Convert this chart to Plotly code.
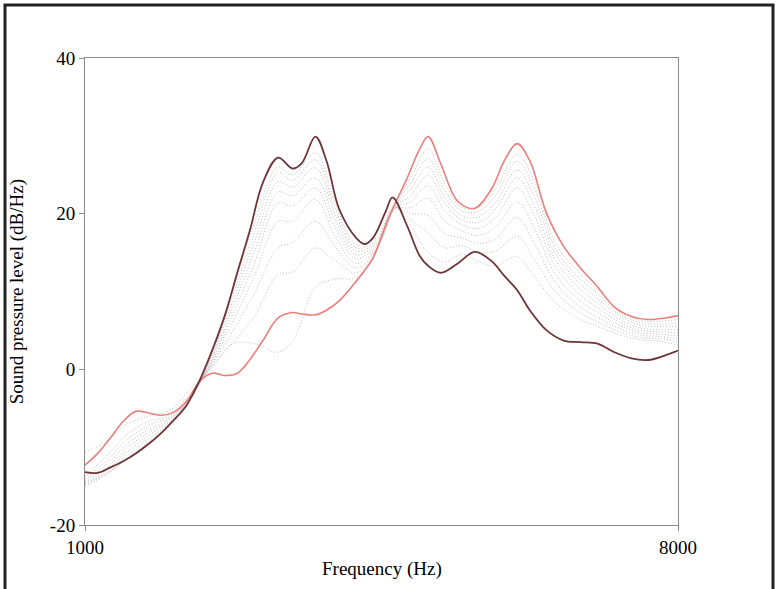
import plotly.graph_objects as go

# Frequency grid (Hz) for the two end spectra
freq_main = [1000, 1150, 1300, 1450, 1600, 1750, 1900, 2050, 2200, 2350, 2500, 2650, 2800, 2950,
             3100, 3280, 3450, 3560, 3720, 3850, 4000, 4200, 4300, 4400, 4550, 4630, 4800, 4950, 5050,
             5200, 5400, 5600, 5800, 5950, 6100, 6250, 6450, 6650, 6850, 7050, 7250, 7450, 7650,
             7850, 8000]

spl_dark = [-13.2, -13.3, -12.6, -11.8, -10.8, -9.6, -8.2, -6.5, -4.6, -1.5, 2.4, 6.9, 12.5, 18.0,
            24.0, 27.2, 25.8, 26.5, 29.9, 26.8, 20.6, 16.9, 16.1, 16.9, 20.3, 22.1, 18.5, 14.6, 13.3,
            12.4, 13.6, 15.1, 13.9, 12.0, 10.2, 7.6, 5.0, 3.7, 3.5, 3.3, 2.2, 1.4, 1.2, 1.8, 2.4]

spl_red = [-12.3, -10.8, -8.8, -6.7, -5.4, -5.6, -5.9, -5.5, -4.1, -1.6, -0.5, -0.8, -0.5, 1.3,
           3.7, 6.6, 7.3, 7.1, 7.0, 7.6, 8.8, 11.3, 12.7, 14.3, 18.5, 20.6, 24.5, 28.3, 29.9,
           26.4, 21.6, 20.7, 23.2, 26.8, 29.0, 26.8, 20.0, 15.8, 13.0, 10.6, 8.0, 6.8, 6.4, 6.6, 6.9]

# Frequency grid (Hz) for the intermediate (dotted) spectra
freq_mid = [1000, 1250, 1500, 1750, 2000, 2250, 2500, 2750, 3000, 3280, 3450, 3720, 3950, 4200,
            4450, 4650, 4850, 5050, 5250, 5450, 5650, 5850, 6100, 6300, 6550, 6800, 7050, 7300,
            7550, 7800, 8000]

spl_mid_1 = [-14.6, -13.4, -11.5, -9.5, -7.1, -3.8, 2.0, 10.3, 18.8, 26.0, 25.0, 27.8, 21.5, 16.0,
             17.0, 21.0, 18.3, 15.0, 13.8, 14.8, 13.8, 13.3, 14.5, 12.0, 8.6, 6.7, 5.5, 4.5, 3.8, 3.6, 3.1]
spl_mid_2 = [-15.0, -13.6, -11.4, -9.3, -7.0, -3.7, 1.8, 9.6, 17.6, 25.3, 24.3, 26.9, 20.8, 15.6,
             16.7, 20.8, 19.2, 17.5, 15.6, 15.9, 15.0, 15.2, 17.1, 14.2, 10.0, 7.6, 6.1, 4.9, 4.1, 3.9, 3.5]
spl_mid_3 = [-14.9, -13.3, -11.0, -8.9, -6.9, -3.6, 1.5, 8.9, 16.4, 24.1, 23.4, 25.9, 20.0, 15.2,
             16.5, 20.7, 20.0, 19.8, 17.4, 16.9, 16.2, 16.8, 19.5, 16.3, 11.2, 8.4, 6.7, 5.3, 4.4, 4.2, 3.9]
spl_mid_4 = [-14.7, -13.0, -10.6, -8.5, -6.7, -3.5, 1.2, 8.1, 15.1, 22.8, 22.3, 24.6, 19.2, 14.7,
             16.3, 20.6, 20.8, 22.0, 19.0, 17.8, 17.2, 18.3, 21.5, 18.2, 12.3, 9.2, 7.3, 5.7, 4.7, 4.5, 4.3]
spl_mid_5 = [-14.5, -12.7, -10.1, -8.1, -6.5, -3.4, 1.0, 7.2, 13.6, 21.4, 21.0, 23.3, 18.3, 14.2,
             16.1, 20.6, 21.6, 23.6, 20.3, 18.6, 18.1, 19.6, 23.3, 19.8, 13.3, 10.0, 7.9, 6.1, 5.0, 4.8, 4.7]
spl_mid_6 = [-14.3, -12.3, -9.6, -7.7, -6.3, -3.3, 0.8, 6.2, 12.0, 19.0, 19.0, 21.8, 17.2, 13.6,
             15.9, 20.6, 22.4, 24.9, 21.3, 19.2, 18.9, 20.6, 24.6, 21.1, 14.1, 10.8, 8.5, 6.5, 5.3, 5.1, 5.1]
spl_mid_7 = [-14.1, -11.8, -9.0, -7.2, -6.1, -3.2, 0.6, 5.0, 9.8, 15.6, 16.3, 19.0, 15.8, 13.0,
             15.7, 20.7, 23.2, 26.0, 22.0, 19.7, 19.6, 21.5, 25.6, 22.3, 14.9, 11.5, 9.1, 6.9, 5.7, 5.5, 5.5]
spl_mid_8 = [-13.8, -11.2, -8.3, -6.7, -5.9, -3.0, 0.4, 3.5, 6.8, 12.2, 12.5, 15.6, 14.0, 12.4,
             15.6, 20.8, 24.0, 27.1, 22.9, 20.3, 20.3, 22.4, 26.7, 23.4, 15.6, 12.1, 9.7, 7.2, 6.0, 5.8, 5.9]
spl_mid_9 = [-10.6, -9.3, -7.0, -6.0, -5.3, -2.4, 0.3, 3.3, 3.3, 2.2, 3.6, 10.5, 11.6, 11.8,
             15.5, 21.0, 24.7, 28.3, 23.8, 20.8, 20.8, 23.2, 27.6, 24.3, 16.3, 12.8, 10.2, 7.5, 6.3, 6.2, 6.4]

mid_series = [spl_mid_1, spl_mid_2, spl_mid_3, spl_mid_4, spl_mid_5,
              spl_mid_6, spl_mid_7, spl_mid_8, spl_mid_9]

x_ticks = [1000, 8000]
y_ticks = [-20, 0, 20, 40]

FONT = "Liberation Serif, Times New Roman, serif"
AXIS_COLOR = "#8a8a8a"

fig = go.Figure()

for s in mid_series:
    fig.add_trace(go.Scatter(x=freq_mid, y=s, mode="lines",
                             line=dict(color="rgba(160,160,160,0.7)", width=1, dash="1px,2px",
                                       shape="spline", smoothing=1.0),
                             showlegend=False, hoverinfo="skip"))

fig.add_trace(go.Scatter(x=freq_main, y=spl_red, mode="lines",
                         line=dict(color="#ec7f7c", width=1.6, shape="spline", smoothing=1.0),
                         showlegend=False))
fig.add_trace(go.Scatter(x=freq_main, y=spl_dark, mode="lines",
                         line=dict(color="#6e3538", width=1.8, shape="spline", smoothing=1.0),
                         showlegend=False))

fig.update_layout(
    width=776, height=589,
    margin=dict(l=85, r=98, t=58, b=64),
    paper_bgcolor="white", plot_bgcolor="white",
    font=dict(family=FONT, size=19, color="black"),
    xaxis=dict(range=[1000, 8000], tickvals=x_ticks, ticktext=[str(v) for v in x_ticks],
               showgrid=False, zeroline=False, showline=True, mirror=True,
               linecolor=AXIS_COLOR, linewidth=1, ticks="outside", ticklen=5,
               tickcolor=AXIS_COLOR, tickfont=dict(family=FONT, size=19)),
    yaxis=dict(range=[-20, 40], tickvals=y_ticks, ticktext=[str(v) for v in y_ticks],
               showgrid=False, zeroline=False, showline=True, mirror=True,
               linecolor=AXIS_COLOR, linewidth=1, ticks="outside", ticklen=5,
               tickcolor=AXIS_COLOR, tickfont=dict(family=FONT, size=19)),
    annotations=[
        dict(text="Frequency (Hz)", xref="paper", yref="paper", x=0.5, y=-0.095,
             xanchor="center", yanchor="middle", showarrow=False,
             font=dict(family=FONT, size=19)),
        dict(text="Sound pressure level (dB/Hz)", xref="paper", yref="paper",
             x=-0.115, y=0.5, xanchor="center", yanchor="middle", textangle=-90,
             showarrow=False, font=dict(family=FONT, size=19)),
    ],
    shapes=[
        dict(type="rect", xref="paper", yref="paper",
             x0=(5 - 85) / 593, x1=(773 - 85) / 593,
             y0=(525 - 600) / 467, y1=(525 - 5) / 467,
             line=dict(color="#222222", width=3), layer="above"),
    ],
)

fig.write_html("out.html")
